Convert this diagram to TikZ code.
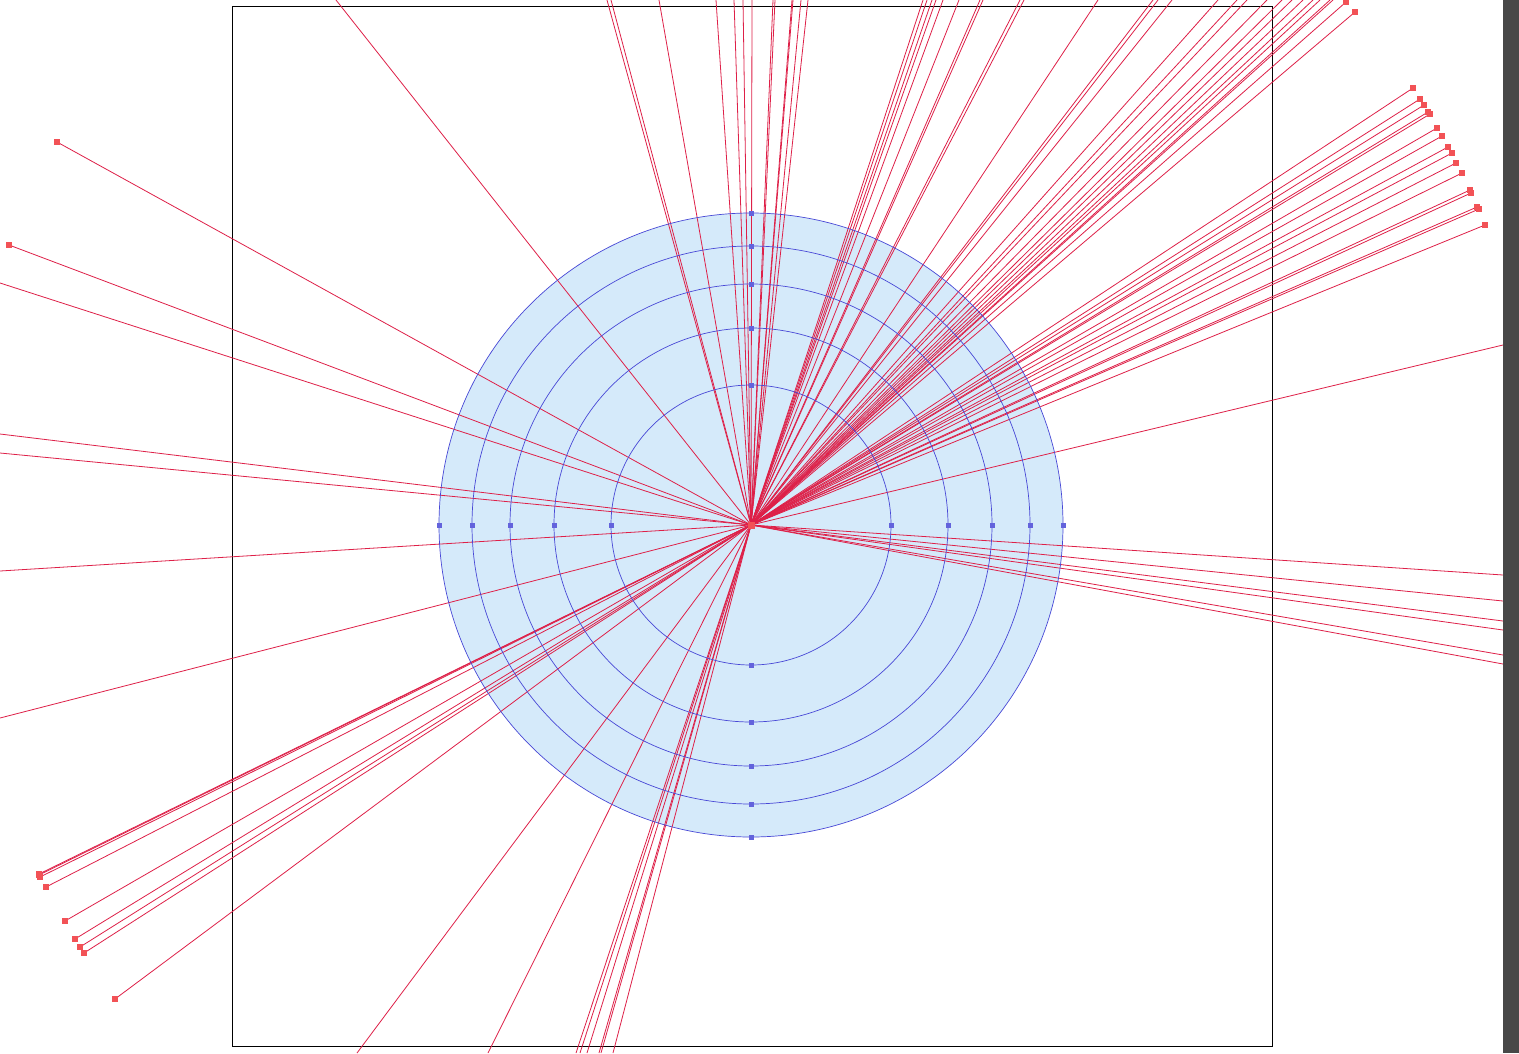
\documentclass[tikz,border=0pt]{standalone}
\usetikzlibrary{positioning}

\definecolor{rayred}{RGB}{222,32,72}
\definecolor{dotred}{RGB}{242,82,86}
\definecolor{ringblue}{RGB}{72,72,214}
\definecolor{discfill}{RGB}{213,234,250}
\definecolor{bargray}{RGB}{72,72,72}

\begin{document}
\begin{tikzpicture}[
        x=1pt, y=-1pt,
        ray/.style={draw=rayred, line width=0.8pt},
        ring/.style={draw=ringblue, line width=0.7pt},
        enddot/.style={rectangle, fill=dotred, inner sep=0pt, minimum size=6pt},
        ringdot/.style={rectangle, fill=ringblue!85, inner sep=0pt, minimum size=5pt},
        framebox/.style={draw=black, line width=1pt}
    ]

    \useasboundingbox (0,0) rectangle (1519,1053);
    \clip (0,0) rectangle (1519,1053);
    \fill[white] (0,0) rectangle (1519,1053);

    % Frame
    \draw[framebox] (232,6) rectangle (1272,1046);

    % Disc
    \coordinate (c) at (751,525);
    \fill[discfill] (c) circle (312pt);

    % Rays ending in a dot
    \foreach \px/\py [count=\i] in {1346/2, 1355/12, 1413/88, 1420/99, 1424/105,
            1428/112, 1430/114, 1437/128, 1442/136, 1448/147, 1452/153, 1456/163,
            1462/173, 1470/190, 1471/193, 1477/207, 1479/209, 1485/225,
            57/142, 9/245, 39/874, 39/875, 40/877, 46/887, 65/921, 75/939,
            80/947, 84/953, 115/999} {
        \coordinate (d\i) at (\px,\py);
        \draw[ray] (c) -- (d\i);
    }

    % Rays leaving the picture
    \foreach \px/\py [count=\i] in {336/0, 607/0, 611/0, 659/0, 716/0, 734/0,
            743/0, 752/0, 773/0, 775/0, 792/0, 793/0, 801/0, 808/0, 923/0, 927/0,
            932/0, 936/0, 943/0, 959/0, 980/0, 983/0, 1020/0, 1024/0, 1098/0,
            1153/0, 1158/0, 1172/0, 1218/0, 1237/0, 1247/0, 1267/0, 1282/0,
            1292/0, 1303/0, 1313/0, 1320/0, 1330/0, 1333/0,
            1503/345, 1503/575, 1503/601, 1503/621, 1503/630, 1503/655, 1503/664,
            0/283, 0/434, 0/453, 0/571, 0/718,
            357/1053, 488/1053, 576/1053, 580/1053, 587/1053, 599/1053,
            601/1053, 613/1053} {
        \coordinate (e\i) at (\px,\py);
        \draw[ray] (c) -- (e\i);
    }

    % Rings and their markers
    \foreach \r [count=\k] in {140,197,241,279,312} {
        \draw[ring] (c) circle (\r pt);
        \foreach \a in {0,90,180,270}
            \node[ringdot] (r\k-\a) at ([shift={(\a:\r pt)}]c) {};
    }

    % Dots at the ray ends
    \foreach \i in {1,...,29}
        \node[enddot] (p\i) at (d\i) {};
    \node[enddot, minimum size=7pt] (hub) at (c) {};

    % Scroll bar
    \fill[bargray] (1503,0) rectangle (1519,1053);

\end{tikzpicture}
\end{document}
